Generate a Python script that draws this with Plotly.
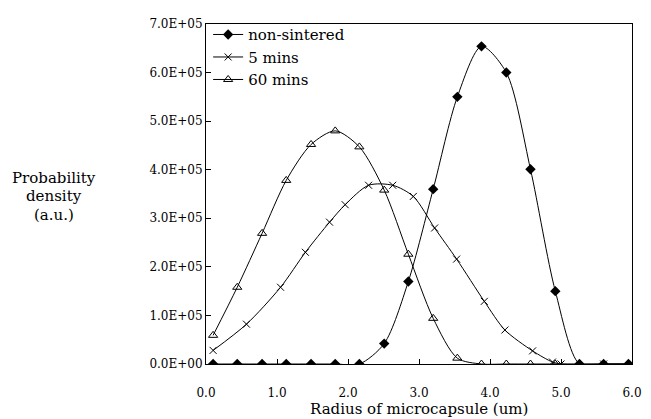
import plotly.graph_objects as go

# Data
x_grid = [0.10, 0.44, 0.79, 1.13, 1.48, 1.82, 2.16, 2.51, 2.85, 3.20, 3.54,
          3.88, 4.23, 4.57, 4.92, 5.26, 5.60, 5.95]
non_sintered = [0, 0, 0, 0, 0, 0, 0, 0.42e5, 1.70e5, 3.60e5, 5.50e5,
                6.54e5, 6.00e5, 4.01e5, 1.50e5, 0, 0, 0]
min60 = [0.59e5, 1.58e5, 2.69e5, 3.78e5, 4.52e5, 4.80e5, 4.47e5, 3.58e5,
         2.26e5, 0.94e5, 0.12e5, 0, 0, 0, 0, 0, 0, 0]
x_5min = [0.10, 0.57, 1.05, 1.40, 1.74, 1.96, 2.29, 2.63, 2.92, 3.22, 3.53,
          3.92, 4.21, 4.60, 4.88, 5.00, 5.60, 6.00]
min5 = [0.28e5, 0.82e5, 1.58e5, 2.30e5, 2.92e5, 3.28e5, 3.68e5, 3.68e5,
        3.45e5, 2.80e5, 2.16e5, 1.29e5, 0.70e5, 0.27e5, 0.04e5, 0, 0, 0]

y_tickvals = [0, 1e5, 2e5, 3e5, 4e5, 5e5, 6e5, 7e5]
y_ticktext = ["0.0E+00", "1.0E+05", "2.0E+05", "3.0E+05", "4.0E+05",
              "5.0E+05", "6.0E+05", "7.0E+05"]
x_tickvals = [0, 1, 2, 3, 4, 5, 6]
x_ticktext = ["0.0", "1.0", "2.0", "3.0", "4.0", "5.0", "6.0"]
y_title_lines = ["Probability", "density", "(a.u.)"]
x_title = "Radius of microcapsule (um)"

FONT = "DejaVu Serif"

fig = go.Figure()
fig.add_trace(go.Scatter(
    x=x_grid, y=non_sintered, name="non-sintered", mode="lines+markers",
    line=dict(color="black", width=1, shape="spline", smoothing=0.8),
    marker=dict(symbol="diamond", size=8, color="black")))
fig.add_trace(go.Scatter(
    x=x_5min, y=min5, name="5 mins", mode="lines+markers",
    line=dict(color="black", width=1, shape="spline", smoothing=0.8),
    marker=dict(symbol="x-thin", size=7, color="black",
                line=dict(color="black", width=1))))
fig.add_trace(go.Scatter(
    x=x_grid, y=min60, name="60 mins", mode="lines+markers",
    line=dict(color="black", width=1, shape="spline", smoothing=0.8),
    marker=dict(symbol="triangle-up-open", size=8, color="black",
                line=dict(color="black", width=1))))

annotations = []
for i, t in enumerate(y_title_lines):
    annotations.append(dict(text=t, xref="paper", yref="paper",
                            x=-0.356, y=0.548 - i * 0.055,
                            xanchor="center", yanchor="middle",
                            showarrow=False,
                            font=dict(family=FONT, size=15)))
annotations.append(dict(text=x_title, xref="paper", yref="paper",
                        x=0.5, y=-0.131, xanchor="center", yanchor="middle",
                        showarrow=False, font=dict(family=FONT, size=15)))

fig.update_layout(
    width=643, height=411,
    margin=dict(l=198, r=12, t=9, b=55),
    paper_bgcolor="white", plot_bgcolor="white",
    font=dict(family=FONT, size=12, color="black"),
    showlegend=True,
    legend=dict(x=0.005, y=1.017, xanchor="left", yanchor="top",
                bgcolor="rgba(0,0,0,0)", font=dict(family=FONT, size=15),
                itemwidth=30, tracegroupgap=0),
    xaxis=dict(range=[0, 6], tickvals=x_tickvals, ticktext=x_ticktext,
               showgrid=False, zeroline=False, showline=True, linecolor="black",
               linewidth=1, mirror=True, ticks="inside", ticklen=5,
               tickcolor="black", ticklabelstandoff=18,
               tickfont=dict(family=FONT, size=12)),
    yaxis=dict(range=[0, 7e5], tickvals=y_tickvals, ticktext=y_ticktext,
               showgrid=False, zeroline=False, showline=True, linecolor="black",
               linewidth=1, mirror=True, ticks="inside", ticklen=5,
               tickcolor="black", tickfont=dict(family=FONT, size=12)),
    annotations=annotations,
)

fig.write_html("out.html")
